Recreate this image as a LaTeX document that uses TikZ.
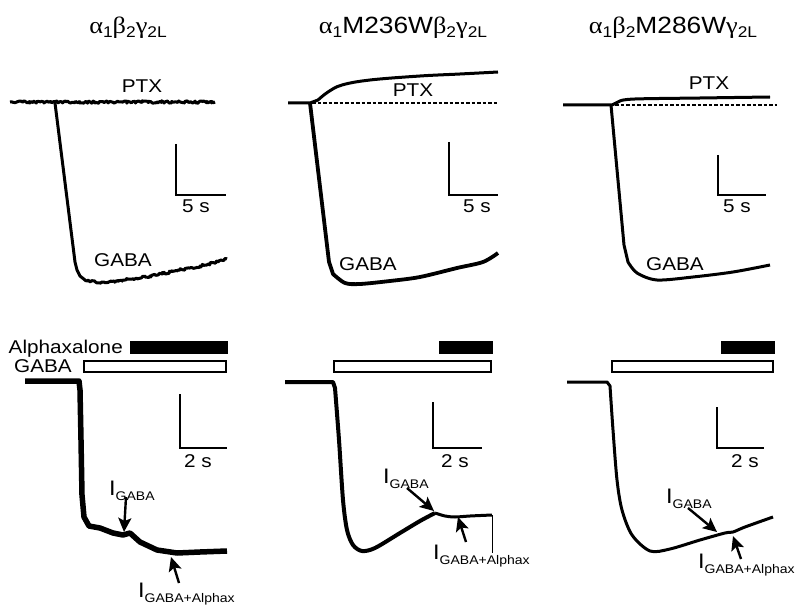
\documentclass[tikz,border=0pt]{standalone}
\usepackage{fontspec}
\setmainfont[FakeStretch=1.12]{Liberation Sans}
\newfontfamily\grk[FakeStretch=1.12]{Liberation Serif}
\usetikzlibrary{arrows.meta,decorations.pathmorphing}
\newcommand\tsub[1]{\raisebox{-4pt}{\fontsize{15.5}{16}\selectfont #1}}
\newcommand\isub[1]{\raisebox{-5.5pt}{\fontsize{12.5}{13}\selectfont #1}}
\tikzset{
	trace/.style={line width=3pt, line join=round},
	noisy/.style={decorate, decoration={random steps, segment length=1.3pt, amplitude=1.2pt}},
	dashline/.style={line width=1.6pt, dash pattern=on 3.5pt off 2pt},
	sbar/.style={line width=2.4pt},
	blackbar/.style={draw, fill=black},
	whitebar/.style={draw, line width=2.2pt, fill=white},
	lbl/.style={font=\fontsize{18.5}{20}\selectfont, inner sep=0pt, anchor=base},
	ttl/.style={font=\fontsize{23.5}{25}\selectfont, inner sep=0pt, anchor=base},
	ilbl/.style={font=\fontsize{21}{22}\selectfont, inner sep=0pt, anchor=base west},
	arr/.style={line width=2.4pt, -{Stealth[length=14pt,width=13pt,inset=3pt]}}
}

\begin{document}
\begin{tikzpicture}[x=1pt, y=-1pt]
			\useasboundingbox (0,0) rectangle (800,612);
			\pgfmathsetseed{11}
			%%%%% TOP ROW %%%%%
			\node[ttl] (ttlA) at (128,34) {{\grk α}\tsub{1}{\grk β}\tsub{2}{\grk γ}\tsub{2L}};
			\node[ttl] (ttlB) at (403,34) {{\grk α}\tsub{1}M236W{\grk β}\tsub{2}{\grk γ}\tsub{2L}};
			\node[ttl] (ttlC) at (673,34) {{\grk α}\tsub{1}{\grk β}\tsub{2}M286W{\grk γ}\tsub{2L}};
			
			% wild type
			\draw[trace, noisy] (10,102) -- (215,102);
			\draw[trace] (55,103) -- (75,262) -- (77,270) -- (80,276) -- (85,280);
			\draw[trace, noisy] (85,280) -- (100,283) -- (125,280) -- (150,276) -- (180,270) -- (205,265) -- (227,259);
			\node[lbl] (ptxA) at (142,93) {PTX};
			\node[lbl] (gabaA) at (123,267) {GABA};
			\draw[sbar] (176,144) -- (176,195) -- (226,195);
			\node[lbl] (secA) at (196,213) {5 s};
			
			% alpha mutant
			\draw[trace] (288,103) -- (310,103) -- plot[smooth, tension=0.6] coordinates {(318,100) (328,92) (342,85) (370,80) (420,76) (460,74) (498,72)};
			\draw[dashline] (312,103) -- (498,103);
			\draw[trace, line width=3.8pt] (310,103) -- (329,262) -- plot[smooth, tension=0.5] coordinates {(333,274) (345,283) (360,284) (390,281) (420,277) (457,268) (483,262) (498,253)};
			\node[lbl] (ptxB) at (413,97) {PTX};
			\node[lbl] (gabaB) at (368,271) {GABA};
			\draw[sbar] (449,142) -- (449,195) -- (498,195);
			\node[lbl] (secB) at (477,213) {5 s};
			
			% beta mutant
			\draw[trace] (563,105) -- (612,105) -- plot[smooth, tension=0.6] coordinates {(620,101) (635,99) (700,98) (770,97)};
			\draw[dashline] (615,105) -- (777,105);
			\draw[trace] (611,105) -- (624,245) -- plot[smooth, tension=0.5] coordinates {(628,262) (637,273) (657,280) (693,277) (733,272) (770,265)};
			\node[lbl] (ptxC) at (709,90) {PTX};
			\node[lbl] (gabaC) at (675,271) {GABA};
			\draw[sbar] (718,155) -- (718,195) -- (766,195);
			\node[lbl] (secC) at (737,213) {5 s};
			
			%%%%% BOTTOM ROW %%%%%
			\node[lbl, anchor=base east] (alphx) at (123,353) {Alphaxalone};
			\node[lbl, anchor=base east] (gabaD) at (72,372) {GABA};
			\draw[blackbar] (130,341) rectangle (227,353);
			\draw[whitebar] (84,361) rectangle (226,372);
			\draw[blackbar] (439,341) rectangle (492,353);
			\draw[whitebar] (334,361) rectangle (491,372);
			\draw[blackbar] (721,341) rectangle (774,353);
			\draw[whitebar] (612,361) rectangle (773,372);
			
			% wild type
			\draw[trace, line width=5.5pt] (25,381) -- (79,381) -- (80,390) -- (81,440) -- (82,495) -- (84,517) -- (89,526) -- (100,528) -- (113,533) -- (123,535) -- (130,533) -- (140,542) -- (157,550) -- (177,553) -- (200,552) -- (227,551);
			\draw[sbar] (180,394) -- (180,448) -- (227,448);
			\node[lbl] (secD) at (198,467) {2 s};
			\node[ilbl] (igA) at (109,495) {I\isub{GABA}};
			\node[ilbl] (ialA) at (138,597) {I\isub{GABA+Alphax}};
			\coordinate (igAt) at (126,497);
			\coordinate (igAh) at (124,532);
			\coordinate (ialAt) at (179,583);
			\coordinate (ialAh) at (171,557);
			\draw[arr] (igAt) -- (igAh);
			\draw[arr] (ialAt) -- (ialAh);
			
			% alpha mutant
			\draw[trace, line width=4pt] (285,382) -- (333,382) -- plot[smooth, tension=0.5] coordinates {(335,388) (339,440) (343,500) (347,530) (353,545) (362,551) (375,548) (400,533) (420,521) (435,513)};
			\draw[trace] plot[smooth, tension=0.5] coordinates {(435,513) (445,516) (455,517) (470,516) (492,515)};
			\draw[line width=0.8pt] (492,515) -- (492,553);
			\draw[sbar] (433,402) -- (433,448) -- (482,448);
			\node[lbl] (secE) at (455,467) {2 s};
			\node[ilbl] (igB) at (383,483) {I\isub{GABA}};
			\node[ilbl] (ialB) at (433,559) {I\isub{GABA+Alphax}};
			\coordinate (igBt) at (407,488);
			\coordinate (igBh) at (434,511);
			\coordinate (ialBt) at (466,542);
			\coordinate (ialBh) at (458,517);
			\draw[arr] (igBt) -- (igBh);
			\draw[arr] (ialBt) -- (ialBh);
			
			% beta mutant
			\draw[trace] (567,382) -- (607,382) -- plot[smooth, tension=0.5] coordinates {(610,386) (613,430) (617,480) (622,510) (632,535) (650,551) (670,549) (700,540) (725,533) (733,532) (745,527) (773,517)};
			\draw[sbar] (717,407) -- (717,448) -- (764,448);
			\node[lbl] (secF) at (745,467) {2 s};
			\node[ilbl] (igC) at (666,503) {I\isub{GABA}};
			\node[ilbl] (ialC) at (698,568) {I\isub{GABA+Alphax}};
			\coordinate (igCt) at (688,508);
			\coordinate (igCh) at (717,532);
			\coordinate (ialCt) at (741,559);
			\coordinate (ialCh) at (733,536);
			\draw[arr] (igCt) -- (igCh);
			\draw[arr] (ialCt) -- (ialCh);
			%%%%% END %%%%%
\end{tikzpicture}
\end{document}
